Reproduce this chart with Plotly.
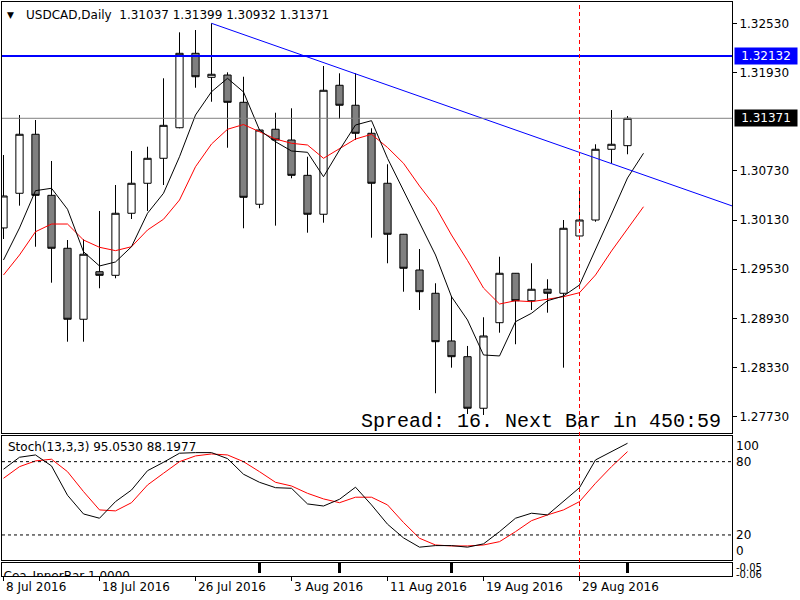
import plotly.graph_objects as go

# ---------------- data ----------------
bar_index = list(range(40))
open_ = [1.30033, 1.30456, 1.31176, 1.30431, 1.29785, 1.28919, 1.29499, 1.29455, 1.30212, 1.30578,
         1.30883, 1.31256, 1.32164, 1.31871, 1.31899, 1.31566, 1.30322, 1.31237, 1.31106, 1.30675,
         1.30200, 1.31774, 1.31530, 1.31188, 1.30578, 1.29956, 1.29520, 1.29236, 1.28654, 1.28462,
         1.27833, 1.28877, 1.29480, 1.29145, 1.29285, 1.29236, 1.29935, 1.30130, 1.30993, 1.31037]
high = [1.30923, 1.31411, 1.31350, 1.30850, 1.29886, 1.29895, 1.30240, 1.30557, 1.30972, 1.31024,
        1.31859, 1.32420, 1.32448, 1.32530, 1.31932, 1.31878, 1.31240, 1.31439, 1.31493, 1.30902,
        1.32009, 1.31920, 1.31920, 1.31249, 1.30810, 1.29960, 1.29776, 1.29358, 1.29203, 1.28593,
        1.28943, 1.29682, 1.29483, 1.29602, 1.29407, 1.30130, 1.30505, 1.31054, 1.31472, 1.31399]
low = [1.29898, 1.30305, 1.29804, 1.29365, 1.28645, 1.28645, 1.29297, 1.29419, 1.30142, 1.30240,
       1.30557, 1.31249, 1.31744, 1.31573, 1.31012, 1.30029, 1.30273, 1.30061, 1.30639, 1.29975,
       1.30097, 1.31362, 1.31106, 1.29914, 1.29602, 1.29255, 1.29032, 1.28016, 1.28328, 1.27763,
       1.27751, 1.28755, 1.28614, 1.29032, 1.28999, 1.28328, 1.29886, 1.30109, 1.30822, 1.30932]
close = [1.30423, 1.31176, 1.30431, 1.29785, 1.28919, 1.29712, 1.29455, 1.30212, 1.30578, 1.30883,
         1.31285, 1.32164, 1.31878, 1.31908, 1.31566, 1.30407, 1.31228, 1.31106, 1.30675, 1.30200,
         1.31713, 1.31530, 1.31188, 1.30578, 1.29956, 1.29541, 1.29255, 1.28645, 1.28462, 1.27833,
         1.28715, 1.29480, 1.29145, 1.29285, 1.29236, 1.30029, 1.30130, 1.30993, 1.31054, 1.31371]

ma_index = list(range(41))
ma_fast = [1.29642, 1.30033, 1.30488, 1.30517, 1.30261, 1.29743, 1.29569, 1.29618, 1.29804, 1.30212,
           1.30456, 1.30902, 1.31411, 1.31695, 1.31859, 1.31692, 1.31228, 1.31085, 1.30972, 1.30956,
           1.30658, 1.30984, 1.31289, 1.31342, 1.30883, 1.30496, 1.30090, 1.29703, 1.29194, 1.28910,
           1.28483, 1.28471, 1.28889, 1.28992, 1.29145, 1.29203, 1.29337, 1.29764, 1.30203, 1.30643,
           1.30944]
ma_slow = [1.29459, 1.29703, 1.29987, 1.30081, 1.30081, 1.29886, 1.29797, 1.29756, 1.29804, 1.30008,
           1.30139, 1.30374, 1.30780, 1.31057, 1.31237, 1.31295, 1.31207, 1.31118, 1.31066, 1.31045,
           1.30883, 1.31005, 1.31118, 1.31176, 1.31015, 1.30822, 1.30545, 1.30292, 1.29947, 1.29636,
           1.29300, 1.29105, 1.29145, 1.29133, 1.29166, 1.29194, 1.29243, 1.29459, 1.29752, 1.30020,
           1.30292]

stoch_k = [73.8, 83.6, 85.5, 76.5, 52.5, 37.2, 33.7, 47.3, 56.8, 72.6,
           79.5, 86.9, 87.4, 87.4, 82.5, 69.7, 63.1, 58.7, 58.2, 45.4,
           43.7, 49.2, 59.1, 44.6, 28.8, 17.6, 10.0, 11.3, 11.3, 10.0,
           12.7, 22.7, 33.7, 37.8, 36.4, 47.3, 58.7, 81.4, 88.2, 95.053]
stoch_d = [66.4, 75.9, 80.6, 82.0, 71.8, 55.5, 40.5, 39.7, 46.4, 60.9,
           70.5, 80.0, 84.7, 86.3, 85.5, 80.0, 71.8, 63.1, 60.1, 54.1,
           49.5, 46.4, 50.9, 50.9, 44.6, 30.2, 17.3, 11.8, 11.0, 11.0,
           11.8, 14.5, 22.7, 31.7, 36.4, 40.5, 47.3, 62.3, 75.9, 88.198]

inner_bar_index = [16, 21, 28, 39]
inner_bar_value = [1, 1, 1, 1]

date_tick_index = [0, 6, 12, 18, 24, 30, 36]
date_tick_text = ["8 Jul 2016", "18 Jul 2016", "26 Jul 2016", "3 Aug 2016",
                  "11 Aug 2016", "19 Aug 2016", "29 Aug 2016"]
price_ticks = [1.32530, 1.31930, 1.30730, 1.30130, 1.29530, 1.28930, 1.28330, 1.27730]
stoch_levels = [80, 20]
stoch_label_vals = [93.1, 80, 20, 7.1]
stoch_label_text = ["100", "80", "20", "0"]

resistance_level = 1.32132
bid_price = 1.31371
trend_x = [13, 46]
trend_y = [1.32530, 1.30270]
vline_index = 36

header_text = "USDCAD,Daily\u00a0\u00a01.31037 1.31399 1.30932 1.31371"
stoch_text = "Stoch(13,3,3) 95.0530 88.1977"
inner_text = "Cea_InnerBar 1.0000"
spread_text = "Spread: 16. Next Bar in 450:59"

# ---------------- layout geometry ----------------
W, H = 800, 600
ML, MR, MT, MB = 2, 68, 2, 24
PH = H - MT - MB
PW = W - ML - MR


def py(p):  # pixel y -> paper y
    return (H - MB - p) / PH


def px(p):  # pixel x -> paper x
    return (p - ML) / PW


FONT = "DejaVu Sans"

fig = go.Figure()

fig.add_trace(go.Candlestick(
    x=bar_index, open=open_, high=high, low=low, close=close,
    increasing=dict(line=dict(color="black", width=1), fillcolor="white"),
    decreasing=dict(line=dict(color="black", width=1), fillcolor="#808080"),
    whiskerwidth=0, xaxis="x", yaxis="y", hoverinfo="skip", showlegend=False))

fig.add_trace(go.Scatter(x=ma_index, y=ma_slow, mode="lines",
                         line=dict(color="#FF0000", width=1), xaxis="x", yaxis="y",
                         hoverinfo="skip", showlegend=False))
fig.add_trace(go.Scatter(x=ma_index, y=ma_fast, mode="lines",
                         line=dict(color="black", width=1), xaxis="x", yaxis="y",
                         hoverinfo="skip", showlegend=False))
fig.add_trace(go.Scatter(x=trend_x, y=trend_y, mode="lines",
                         line=dict(color="#0000FF", width=1), xaxis="x", yaxis="y",
                         hoverinfo="skip", showlegend=False))

# stochastic
fig.add_trace(go.Scatter(x=bar_index, y=stoch_d, mode="lines",
                         line=dict(color="#FF0000", width=1), xaxis="x2", yaxis="y2",
                         hoverinfo="skip", showlegend=False))
fig.add_trace(go.Scatter(x=bar_index, y=stoch_k, mode="lines",
                         line=dict(color="black", width=1), xaxis="x2", yaxis="y2",
                         hoverinfo="skip", showlegend=False))

# inner bar panel
fig.add_trace(go.Bar(x=inner_bar_index, y=inner_bar_value, width=0.2,
                     marker=dict(color="black", line=dict(width=0)),
                     xaxis="x3", yaxis="y3", hoverinfo="skip", showlegend=False))
fig.add_trace(go.Scatter(x=[0.0], y=[-0.42], mode="text", text=[inner_text],
                         textposition="middle right", cliponaxis=True,
                         textfont=dict(family=FONT, size=12, color="black"),
                         xaxis="x3", yaxis="y3", hoverinfo="skip", showlegend=False))

xr = [-0.09375, 45.53125]
axis_common = dict(showline=True, mirror=True, linecolor="black", linewidth=1,
                   showgrid=False, zeroline=False)

fig.update_layout(
    width=W, height=H,
    margin=dict(l=ML, r=MR, t=MT, b=MB),
    paper_bgcolor="white", plot_bgcolor="white",
    showlegend=False, boxgap=0.35, bargap=0, hovermode=False,
    xaxis=dict(domain=[0, 1], range=xr, anchor="y", showticklabels=False, ticks="",
               rangeslider=dict(visible=False), **axis_common),
    xaxis2=dict(domain=[0, 1], range=xr, anchor="y2", matches="x", showticklabels=False,
                ticks="", **axis_common),
    xaxis3=dict(domain=[0, 1], range=xr, anchor="y3", matches="x", showticklabels=False,
                ticks="outside", ticklen=4, tickcolor="black", tickvals=date_tick_index,
                **axis_common),
    yaxis=dict(domain=[py(433), 1], range=[1.27531, 1.32790], anchor="x", side="right",
               tickvals=price_ticks, ticktext=["%.5f" % v for v in price_ticks],
               ticks="outside", ticklen=4, tickcolor="black",
               tickfont=dict(family=FONT, size=12, color="black"), **axis_common),
    yaxis2=dict(domain=[py(560), py(436)], range=[-0.5, 101], anchor="x2", side="right",
                showticklabels=False, ticks="", **axis_common),
    yaxis3=dict(domain=[0, py(563)], range=[-0.3, 1.0], anchor="x3", side="right",
                showticklabels=False, ticks="", **axis_common),
)

shapes = [
    dict(type="line", xref="x domain", yref="y", x0=0, x1=1, y0=bid_price, y1=bid_price,
         line=dict(color="#808080", width=1)),
    dict(type="line", xref="x domain", yref="y", x0=0, x1=1, y0=resistance_level,
         y1=resistance_level, line=dict(color="#0000FF", width=2)),
    dict(type="line", xref="x", yref="paper", x0=vline_index, x1=vline_index, y0=0, y1=1,
         line=dict(color="#FF0000", width=1, dash="4px,3px")),
]
for lv in stoch_levels:
    shapes.append(dict(type="line", xref="x2 domain", yref="y2", x0=0, x1=1, y0=lv, y1=lv,
                       line=dict(color="black", width=1, dash="3px,3px")))
fig.update_layout(shapes=shapes)

ann = []
# header
ann.append(dict(xref="paper", yref="paper", x=px(5), y=py(15), xanchor="left",
                yanchor="middle", text="\u25bc", showarrow=False,
                font=dict(family=FONT, size=9, color="black")))
ann.append(dict(xref="paper", yref="paper", x=px(24), y=py(15), xanchor="left",
                yanchor="middle", text=header_text, showarrow=False,
                font=dict(family=FONT, size=12, color="black")))
# stoch title
ann.append(dict(xref="paper", yref="paper", x=px(6), y=py(447), xanchor="left",
                yanchor="middle", text=stoch_text, showarrow=False,
                font=dict(family=FONT, size=12, color="black")))
# spread text
ann.append(dict(xref="paper", yref="paper", x=px(723), y=py(421), xanchor="right",
                yanchor="middle", text=spread_text, showarrow=False,
                font=dict(family="Liberation Mono", size=20, color="black")))
# price labels with background
ann.append(dict(xref="paper", yref="y", x=px(734), y=resistance_level, xanchor="left",
                yanchor="middle", text="%.5f" % resistance_level, showarrow=False,
                bgcolor="#0000FF", width=58, height=12, borderpad=2, align="center",
                font=dict(family=FONT, size=12, color="white")))
ann.append(dict(xref="paper", yref="y", x=px(734), y=bid_price, xanchor="left",
                yanchor="middle", text="%.5f" % bid_price, showarrow=False,
                bgcolor="black", width=58, height=12, borderpad=2, align="center",
                font=dict(family=FONT, size=12, color="white")))
# stoch axis labels
for v, t in zip(stoch_label_vals, stoch_label_text):
    ann.append(dict(xref="paper", yref="y2", x=px(734), y=v, xanchor="left",
                    yanchor="middle", text=t, showarrow=False,
                    font=dict(family=FONT, size=12, color="black")))
# inner-bar panel axis labels (overlapping in the original)
ann.append(dict(xref="paper", yref="paper", x=px(734), y=py(567), xanchor="left",
                yanchor="middle", text="-0.05", showarrow=False,
                font=dict(family=FONT, size=10, color="black")))
ann.append(dict(xref="paper", yref="paper", x=px(734), y=py(574), xanchor="left",
                yanchor="middle", text="-0.06", showarrow=False,
                font=dict(family=FONT, size=10, color="black")))
# date labels
for i, t in zip(date_tick_index, date_tick_text):
    ann.append(dict(xref="x", yref="paper", x=i, y=py(587), xanchor="left",
                    yanchor="middle", text=t, showarrow=False,
                    font=dict(family=FONT, size=12, color="black")))
fig.update_layout(annotations=ann)

fig.write_html("out.html", config={"displayModeBar": False})
